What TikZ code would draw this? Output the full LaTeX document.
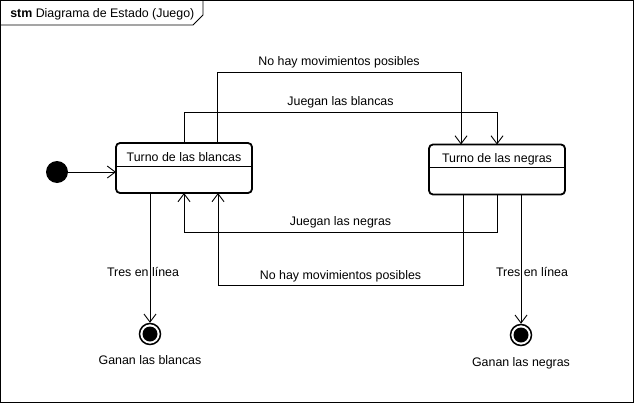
\documentclass[tikz,border=0pt]{standalone}
\usepackage{fontspec}
\setmainfont{Liberation Sans}
\usetikzlibrary{arrows.meta}

\begin{document}
\begin{tikzpicture}[x=1pt,y=-1pt,>={Straight Barb[length=8pt,width=12pt]},line width=0.9pt,font=\fontsize{12.4}{14}\selectfont]
      \tikzstyle{turn}=[draw,line width=1.8pt,rounded corners=4pt,outer sep=0pt,minimum width=136pt,minimum height=50pt,inner ysep=6pt,text height=12pt,text depth=26pt]
      \tikzstyle{start}=[circle,fill=black,minimum size=22pt,inner sep=0pt]
      \tikzstyle{final}=[circle,draw,line width=1.5pt,minimum size=21pt,inner sep=0pt,path picture={\fill (path picture bounding box.center) circle (7.5pt);}]
      \useasboundingbox (0,0) rectangle (636,404);
      \draw (0.5,0.5) rectangle (633.5,402.5);
      \draw (0.5,25) -- (193,25) -- (203,15) -- (203,0.5);
      \node [anchor=west] (t) at (6.5,14) {\textbf{stm} Diagrama de Estado (Juego)};
      \node [start] (a) at (57,172) {};
      \node [turn] (b) at (184,168) {Turno de las blancas};
      \node [turn] (c) at (497,169.5) {Turno de las negras};
      \node [final,label={[label distance=6pt]below:Ganan las blancas}] (d) at (150,334) {};
      \node [final,label={[label distance=7pt]below:Ganan las negras}] (e) at (521,335) {};
      \draw ([yshift=-23pt]b.north west) -- ([yshift=-23pt]b.north east);
      \draw ([yshift=-23pt]c.north west) -- ([yshift=-23pt]c.north east);
      \draw [->] (a) -- (a -| b.west);
      \draw [->] ([xshift=33pt]b.north) -- ++(0,-71) -| node [above,pos=0.25] {No hay movimientos posibles} ([xshift=-36pt]c.north);
      \draw [->] (b.north) -- ++(0,-31) -| node [above,pos=0.25] {Juegan las blancas} (c.north);
      \draw [->] (c.south) -- ++(0,37.5) -| node [above,pos=0.25] {Juegan las negras} (b.south);
      \draw [->] ([xshift=-34pt]c.south) -- ++(0,91) -| node [above,pos=0.25] {No hay movimientos posibles} ([xshift=34pt]b.south);
      \draw [->] (d |- b.south) -- node [pos=0.61,xshift=-7pt] {Tres en línea} (d);
      \draw [->] (e |- c.south) -- node [pos=0.6,xshift=11pt] {Tres en línea} (e);
\end{tikzpicture}
\end{document}
